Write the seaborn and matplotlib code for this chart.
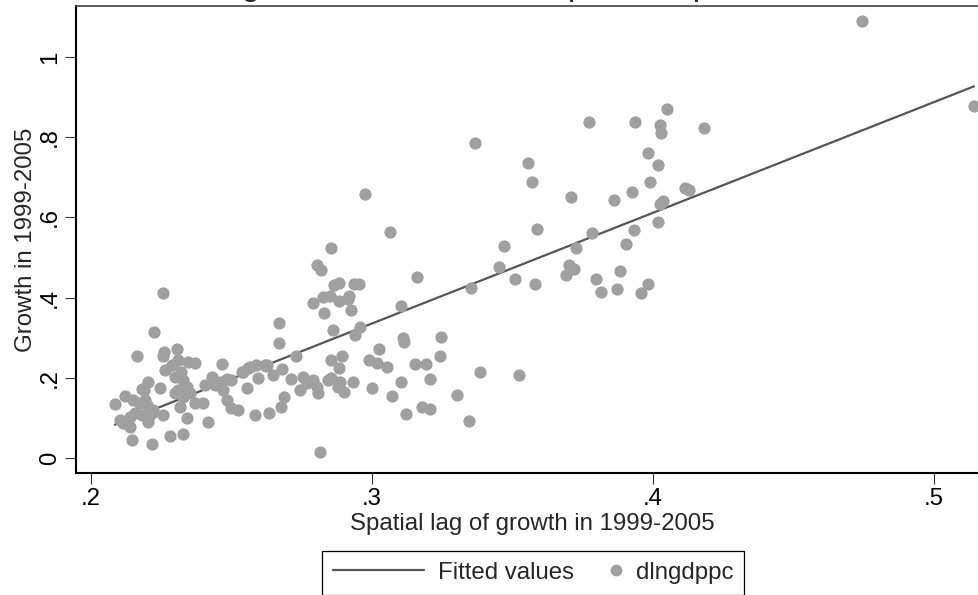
import numpy as np
import pandas as pd
import matplotlib
matplotlib.use("Agg")
import matplotlib.pyplot as plt
import seaborn as sns
from matplotlib.lines import Line2D
from matplotlib.legend_handler import HandlerLine2D

# spatial lag of growth (x) and growth (y)
lag_growth = [
    .4745, .5143, .3368, .3771, .3938, .4025, .4030, .4051, .4183, .3555,
    .3569, .3981, .4020, .3989, .3925, .4115, .4130, .3708, .3861, .4025,
    .4035, .4019, .3589, .3932, .3782, .3469, .3728, .3904, .3453, .3508,
    .3580, .3701, .3720, .3691, .3797, .3884, .3816, .3873, .3983, .3958,
    .2975, .3063, .2853, .2805, .2819, .3159, .3352, .2865, .2884, .2937,
    .2955, .2827, .2851, .2884, .2919, .2916, .2789, .2830, .2926, .3103,
    .2670, .2862, .2956, .2940, .2670, .2728, .2623, .2680, .2649, .3109,
    .3114, .3246, .3025, .3242, .2853, .2894, .2884, .2989, .3019, .3053,
    .3154, .3194, .3206, .3102, .2933, .2999, .3072, .3304, .3385, .3524,
    .3177, .3206, .3121, .3344, .2856, .2886, .2900, .2809, .2803, .2756,
    .2711, .2744, .2770, .2688, .2675, .2635, .2815,
    .2257, .2224, .2165, .2260, .2255, .2307, .2311, .2346, .2370, .2263,
    .2288, .2466, .2204, .2180, .2246, .2299, .2328, .2340, .2299, .2328,
    .2121, .2085, .2151, .2174, .2198, .2192, .2103, .2115, .2139, .2139,
    .2145, .2216, .2204, .2216, .2257, .2281, .2328, .2342, .2317, .2370,
    .2400, .2417, .2352, .2406, .2429, .2459, .2470, .2483, .2500, .2524,
    .2500, .2483, .2542, .2554, .2566, .2589, .2595, .2584, .2619, .2157,
    .2180, .2204, .2222, .2322, .2311, .2190, .2441, .2560, .2536, .2625,
    .2346, .2791, .2845, .2880,
]
growth = [
    1.090, .878, .786, .838, .838, .830, .811, .870, .822, .736,
    .687, .761, .731, .688, .664, .672, .668, .651, .643, .634,
    .640, .588, .572, .568, .561, .528, .524, .533, .475, .446,
    .435, .480, .470, .456, .447, .466, .415, .421, .435, .412,
    .657, .563, .523, .481, .469, .451, .423, .431, .436, .434,
    .434, .402, .404, .392, .404, .396, .386, .361, .369, .380,
    .337, .319, .327, .306, .286, .254, .229, .221, .207, .298,
    .288, .302, .271, .254, .244, .255, .225, .244, .236, .228,
    .234, .234, .198, .190, .189, .175, .155, .158, .214, .207,
    .128, .123, .109, .092, .199, .190, .165, .161, .178, .203,
    .196, .170, .186, .153, .128, .111, .016,
    .411, .314, .255, .265, .254, .273, .244, .240, .238, .219,
    .232, .234, .190, .171, .174, .203, .195, .178, .161, .153,
    .155, .134, .145, .136, .132, .145, .095, .087, .078, .103,
    .045, .035, .091, .113, .107, .056, .060, .099, .128, .136,
    .138, .090, .161, .182, .203, .190, .170, .145, .124, .120,
    .195, .196, .215, .175, .228, .232, .199, .107, .232, .111,
    .107, .099, .120, .215, .170, .170, .182, .224, .215, .232,
    .165, .195, .195, .178,
]

x_ticks = [.2, .3, .4, .5]
x_tick_labels = [".2", ".3", ".4", ".5"]
y_ticks = [0, .2, .4, .6, .8, 1]
y_tick_labels = ["0", ".2", ".4", ".6", ".8", "1"]

df = pd.DataFrame({"lag": lag_growth, "dlngdppc": growth})

sns.set_theme(style="white")
plt.rcParams["font.family"] = ["Liberation Sans", "DejaVu Sans"]

marker_col = "#a0a0a0"
line_col = "#555555"

fig = plt.figure(figsize=(9.79, 5.95), dpi=100)
ax = fig.add_axes([76 / 979, 122 / 595, 913 / 979, 467 / 595])

# fitted values (linear fit, like Stata lfit), then the scatter on top
sns.regplot(data=df, x="lag", y="dlngdppc", scatter=False, ci=None, ax=ax,
            color=line_col, line_kws={"linewidth": 1.6, "zorder": 2})
sns.scatterplot(data=df, x="lag", y="dlngdppc", ax=ax, color=marker_col,
                s=78, linewidth=0, alpha=1, zorder=3, legend=False)

ax.set_xlim(.2 - 15 / 2807, .5143 + 15 / 2807)
ax.set_ylim(-15 / 401, 1.127)
ax.set_xticks(x_ticks, x_tick_labels)
ax.set_yticks(y_ticks, y_tick_labels)
for lab in ax.get_yticklabels():
    lab.set_rotation(90)
    lab.set_va("center")

ax.tick_params(axis="both", which="major", direction="out", length=8,
               width=0.8, color="#333333", labelsize=17.3, labelcolor="black",
               pad=3, left=True, bottom=True)
ax.set_xlabel("Spatial lag of growth in 1999-2005", fontsize=17.3, labelpad=2)
ax.set_ylabel("Growth in 1999-2005", fontsize=17.3, labelpad=1)

for side in ["left", "bottom"]:
    ax.spines[side].set_color("black")
    ax.spines[side].set_linewidth(1.5)
ax.spines["top"].set_color("#444444")
ax.spines["top"].set_linewidth(1.2)
ax.spines["right"].set_color("#444444")
ax.grid(False)

# title sits above the visible area: only its descenders show
fig.text(88 / 979, 1 + 4.5 / 595, "Economic growth rates and the spatial dependence",
         ha="left", va="baseline", fontsize=23.8)


class MarkerRight(HandlerLine2D):
    # single marker near the right end of the handle box, next to its label
    def get_xdata(self, legend, xdescent, ydescent, width, height, fontsize):
        m = -xdescent + width - 0.25 * fontsize
        return [m - 1, m + 1], [m]


h_line = Line2D([], [], color=line_col, linewidth=1.6)
h_dot = Line2D([], [], color=marker_col, marker="o", linestyle="none",
               markersize=8.5, markeredgewidth=0)
leg = fig.legend([h_line, h_dot], ["Fitted values", "dlngdppc"],
                 loc="upper center", bbox_to_anchor=(533 / 979, 1 - 551 / 595),
                 ncol=2, fontsize=17.3, frameon=True, fancybox=False,
                 edgecolor="black", framealpha=1, handlelength=3.8,
                 handletextpad=0.58, columnspacing=-1.83, borderpad=0.45,
                 borderaxespad=0,
                 handler_map={h_dot: MarkerRight(numpoints=1)})
leg.get_frame().set_linewidth(0.9)

fig.savefig("out.png", dpi=100)
